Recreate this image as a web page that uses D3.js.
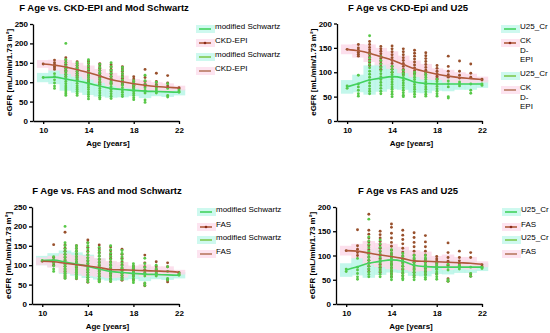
<!DOCTYPE html>
<html>
<head>
<meta charset="utf-8">
<script src="https://cdn.jsdelivr.net/npm/d3@7"></script>
<style>
  body { margin: 0; background: #fff; }
  svg { font-family: "Liberation Sans", Arial, sans-serif; }
</style>
</head>
<body>
<svg id="chart" width="550" height="333"></svg>
<script>
// ages on the x axis and tick values
const ages = [10, 11, 12, 13, 14, 15, 16, 17, 18, 19, 20, 21, 22];
const xTicks = [10, 14, 18, 22];
const yTicks250 = [0, 50, 100, 150, 200, 250];
const yTicks200 = [0, 50, 100, 150, 200];

// fitted lines (mean eGFR per age)
const schwartzFit = [112, 113, 108, 103, 97, 90, 84, 81, 79, 77, 76, 75, 74];
const ckdFit = [147, 144, 139, 132, 125, 116, 107, 101, 96, 92, 89, 87, 85];
const u25Fit = [70, 77, 84, 88, 91, 88, 80, 77, 76, 76, 76, 76, 76];
const fasFit = [110, 109, 105, 101, 98, 94, 89, 88, 87, 86, 85, 84, 82];

// spread shown as the shaded band around each fit
const schwartzSd = [12, 18, 30, 30, 30, 27, 24, 20, 15, 18, 12, 13, 8];
const ckdSd = [10, 14, 18, 18, 18, 18, 17, 16, 12, 13, 11, 10, 6];
const u25Sd = [14, 18, 30, 28, 26, 24, 22, 20, 14, 15, 12, 12, 8];
const fasSd = [10, 15, 25, 25, 26, 24, 22, 20, 12, 16, 12, 13, 6];

// individual values per age
const schwartzPts = [
  [112],
  [122, 114, 106, 98, 90, 84],
  [200, 158, 150, 142, 135, 128, 121, 114, 108, 102, 96, 90, 85, 80, 75, 70, 66],
  [150, 143, 136, 129, 122, 115, 109, 103, 97, 91, 86, 81, 76, 71, 66],
  [158, 150, 142, 134, 126, 119, 112, 105, 99, 93, 87, 81, 75, 69, 63, 57],
  [146, 138, 130, 123, 116, 109, 102, 96, 90, 84, 78, 72, 66, 61, 57],
  [150, 140, 131, 123, 115, 107, 100, 94, 88, 82, 76, 70, 64, 58],
  [138, 130, 122, 114, 106, 99, 92, 86, 80, 74, 68, 63],
  [104, 98, 92, 86, 81, 76, 71, 66, 60, 55],
  [118, 104, 94, 86, 79, 72, 54, 48],
  [100, 91, 85, 80, 75, 72],
  [96, 84, 66, 62],
  [80, 76, 74]
];
const ckdPts = [
  [147],
  [157, 150, 145, 141, 137, 133],
  [163, 157, 151, 146, 141, 136, 131, 126, 120, 114],
  [153, 148, 143, 138, 133, 128, 123, 118, 112, 106],
  [154, 148, 142, 136, 130, 124, 118, 112, 106, 100],
  [148, 142, 136, 130, 124, 118, 112, 106, 100, 95],
  [145, 139, 133, 127, 121, 115, 109, 103, 97],
  [140, 134, 128, 122, 116, 110, 104, 99, 95],
  [114, 108, 102, 97, 92, 88, 85],
  [133, 112, 102, 95, 90],
  [123, 102, 94, 88],
  [117, 98, 90],
  [86, 84]
];
const u25Pts = [
  [67, 72],
  [94, 76, 70, 63, 56, 51],
  [175, 138, 130, 123, 116, 109, 102, 96, 90, 84, 78, 72, 66, 61, 56],
  [132, 124, 117, 110, 103, 97, 91, 85, 79, 73, 67, 61, 56],
  [112, 106, 100, 95, 90, 85, 80, 75, 70, 65, 60, 55, 50],
  [104, 98, 93, 88, 83, 78, 73, 68, 63, 58, 53, 50],
  [100, 95, 90, 85, 80, 75, 70, 65, 60, 55, 50],
  [100, 95, 90, 85, 80, 75, 70, 65, 60, 55, 51],
  [86, 81, 76, 71, 66, 61, 56, 51],
  [82, 76, 70, 50, 47],
  [80, 76, 72],
  [76, 63, 57],
  [76, 73]
];
const fasPts = [
  [110],
  [153, 120, 113, 106, 100],
  [185, 152, 144, 136, 128, 120, 112, 104, 97, 90, 84, 78, 72, 67],
  [150, 143, 136, 129, 122, 115, 108, 101, 94, 88, 82, 76, 70, 65],
  [165, 158, 146, 136, 127, 119, 111, 103, 96, 89, 82, 75, 68, 62, 56],
  [152, 142, 133, 124, 115, 107, 99, 92, 85, 78, 71, 64, 58],
  [147, 137, 127, 118, 109, 101, 93, 86, 79, 72, 65, 58],
  [141, 128, 118, 109, 101, 93, 86, 79, 73, 67, 61],
  [98, 93, 88, 83, 78, 72, 62],
  [126, 106, 96, 88, 80, 52, 47],
  [109, 96, 89, 83, 78],
  [106, 96, 62, 57],
  [81, 77]
];

const green = { line: "#43d25e", dot: "#58c847", band: "#b9f6e8", leg2: "#7fc94f" };
const brown = { line: "#b05a3c", dot: "#98502c", band: "#fcd9e9", leg2: "#b87a62" };

const svg = d3.select("#chart");

function drawPanel(p) {
  const g = svg.append("g");
  const x = d3.scaleLinear().domain([9.1, 22]).range([p.x0, p.x1]);
  const y = d3.scaleLinear().domain([0, p.yMax]).range([p.yBottom, p.yTop]);

  // shaded bands
  [[p.a, green], [p.b, brown]].forEach(([s, col]) => {
    g.append("g").selectAll("rect")
      .data(ages)
      .join("rect")
        .attr("x", a => x(a - 0.55))
        .attr("width", x(10.55) - x(9.45))
        .attr("y", (a, i) => y(s.fit[i] + s.sd[i]))
        .attr("height", (a, i) => y(s.fit[i] - s.sd[i]) - y(s.fit[i] + s.sd[i]))
        .attr("fill", col.band)
        .attr("opacity", 0.85);
  });

  // points: brown first so the green column sits on top where they overlap
  [[p.b, brown], [p.a, green]].forEach(([s, col]) => {
    const pts = [];
    ages.forEach((a, i) => s.pts[i].forEach(v => pts.push({ a, v })));
    g.append("g").selectAll("circle")
      .data(pts)
      .join("circle")
        .attr("cx", d => x(d.a))
        .attr("cy", d => y(d.v))
        .attr("r", 1.45)
        .attr("fill", col.dot);
  });

  // fitted lines
  const line = d3.line()
    .x((d, i) => x(ages[i]))
    .y(d => y(d))
    .curve(d3.curveMonotoneX);
  [[p.a, green], [p.b, brown]].forEach(([s, col]) => {
    g.append("path")
      .datum(s.fit)
      .attr("d", line)
      .attr("fill", "none")
      .attr("stroke", col.line)
      .attr("stroke-width", 1.6);
  });

  // axes
  const yAxis = g.append("g")
    .attr("transform", `translate(${p.x0},0)`)
    .call(d3.axisLeft(y).tickValues(p.yTicks).tickSize(3).tickSizeOuter(0).tickPadding(2));
  const xAxis = g.append("g")
    .attr("transform", `translate(0,${p.yBottom})`)
    .call(d3.axisBottom(x).tickValues(xTicks).tickSize(3).tickSizeOuter(0).tickPadding(3));
  [yAxis, xAxis].forEach(ax => {
    ax.selectAll("path, line").attr("stroke", "#000").attr("stroke-width", 1.3);
    ax.selectAll("text").attr("fill", "#000").style("font-size", "8px").style("font-weight", "bold");
  });

  // titles and axis labels
  g.append("text")
    .attr("x", p.titleX).attr("y", p.titleY)
    .attr("text-anchor", "middle")
    .style("font-size", "9.5px").style("font-weight", "bold")
    .text(p.title);
  g.append("text")
    .attr("x", (p.x0 + p.x1) / 2 + 2).attr("y", p.yBottom + 25)
    .attr("text-anchor", "middle")
    .style("font-size", "8px").style("font-weight", "bold")
    .text("Age [years]");
  g.append("text")
    .attr("transform", `translate(${p.x0 - 21},${(p.yTop + p.yBottom) / 2}) rotate(-90)`)
    .attr("text-anchor", "middle")
    .style("font-size", "8px").style("font-weight", "bold")
    .text("eGFR [mL/min/1.73 m²]");

  // legend
  const items = [
    { lines: p.a.label, col: green.line, shade: green.band, dot: false },
    { lines: p.b.label, col: brown.line, shade: brown.band, dot: true },
    { lines: p.a.label, col: green.leg2, shade: green.band, dot: false },
    { lines: p.b.label, col: brown.leg2, shade: brown.band, dot: false }
  ];
  items.forEach((it, k) => {
    const ly = p.legY[k];
    const lg = g.append("g");
    lg.append("rect")
      .attr("x", p.legX - 3).attr("y", ly - 4)
      .attr("width", 19).attr("height", 8)
      .attr("fill", it.shade).attr("opacity", 0.7);
    lg.append("line")
      .attr("x1", p.legX).attr("x2", p.legX + 12)
      .attr("y1", ly).attr("y2", ly)
      .attr("stroke", it.col).attr("stroke-width", 1.6);
    if (it.dot) {
      lg.append("circle")
        .attr("cx", p.legX + 6).attr("cy", ly).attr("r", 1.3)
        .attr("fill", "#8a2a18");
    }
    const t = lg.append("text")
      .attr("x", p.legX + 16).attr("y", ly)
      .attr("dy", "0.35em")
      .style("font-size", "8px");
    it.lines.forEach((s, j) => {
      t.append("tspan")
        .attr("x", p.legX + 16)
        .attr("dy", j === 0 ? 0 : 9.7)
        .text(s);
    });
  });
}

const schwartz = { fit: schwartzFit, sd: schwartzSd, pts: schwartzPts, label: ["modified Schwartz"] };
const ckd = { fit: ckdFit, sd: ckdSd, pts: ckdPts, label: ["CKD-EPI"] };
const ckdWrap = { fit: ckdFit, sd: ckdSd, pts: ckdPts, label: ["CK", "D-", "EPI"] };
const u25 = { fit: u25Fit, sd: u25Sd, pts: u25Pts, label: ["U25_Cr"] };
const fas = { fit: fasFit, sd: fasSd, pts: fasPts, label: ["FAS"] };

drawPanel({ a: schwartz, b: ckd, title: "F Age vs. CKD-EPI and Mod Schwartz",
  x0: 33, x1: 179, yTop: 24, yBottom: 121, yMax: 250, yTicks: yTicks250,
  titleX: 104, titleY: 11, legX: 199, legY: [29, 43, 57, 71] });
drawPanel({ a: u25, b: ckdWrap, title: "F Age vs CKD-Epi and U25",
  x0: 337, x1: 482, yTop: 23.5, yBottom: 121, yMax: 200, yTicks: yTicks200,
  titleX: 408, titleY: 11, legX: 504, legY: [29, 43, 76, 90] });
drawPanel({ a: schwartz, b: fas, title: "F Age vs. FAS and mod Schwartz",
  x0: 32, x1: 179, yTop: 207, yBottom: 304, yMax: 250, yTicks: yTicks250,
  titleX: 107, titleY: 194, legX: 200, legY: [212, 227, 240, 254] });
drawPanel({ a: u25, b: fas, title: "F Age vs FAS and U25",
  x0: 336, x1: 482, yTop: 207, yBottom: 304, yMax: 200, yTicks: yTicks200,
  titleX: 408, titleY: 194, legX: 505, legY: [212, 227, 240, 254] });
</script>
</body>
</html>
